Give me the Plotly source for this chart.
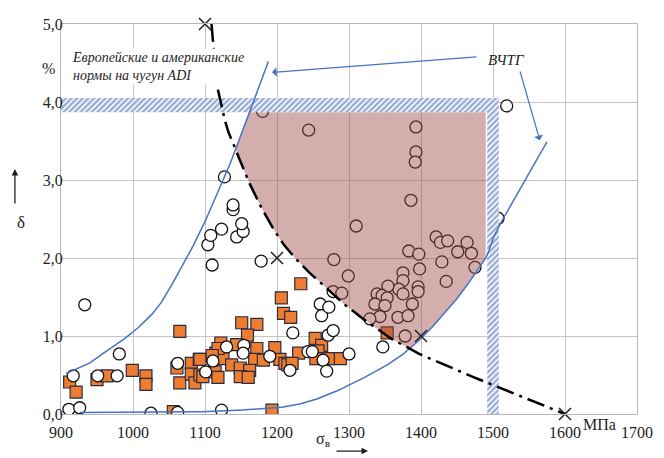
import numpy as np
import plotly.graph_objects as go

# ---------------- data ----------------
circle_x = [933, 981, 917, 951, 978, 911, 926, 1025, 1062, 1062, 1123,
            1101, 1111, 1130, 1154, 1153, 1190, 1218, 1222, 1243, 1249, 1264, 1269, 1300,
            1271, 1278, 1260, 1262, 1272, 1278, 1290, 1299, 1279, 1310,
            1104, 1108, 1123, 1144, 1153, 1151, 1139, 1139, 1127, 1110, 1178, 1180, 1244,
            1393, 1393, 1392, 1386, 1519, 1507,
            1421, 1427, 1437, 1464, 1451, 1470, 1475, 1429, 1435, 1383, 1397, 1398, 1375,
            1375, 1369, 1396, 1396, 1375, 1354, 1339, 1346, 1353, 1336, 1350, 1388, 1343,
            1329, 1368, 1382, 1378, 1347]
circle_y = [1.40, 0.77, 0.49, 0.49, 0.49, 0.06, 0.08, 0.01, 0.65, 0.02, 0.05,
            0.54, 0.68, 0.86, 0.88, 0.78, 0.74, 0.56, 1.04, 0.80, 0.80, 0.69, 0.55, 0.77,
            1.01, 1.07, 1.41, 1.26, 1.37, 1.57, 1.55, 1.77, 1.98, 2.41,
            2.17, 2.29, 2.37, 2.27, 2.34, 2.44, 2.62, 2.68, 3.04, 1.91, 1.96, 3.88, 3.64,
            3.68, 3.36, 3.23, 2.74, 3.95, 2.51,
            2.27, 2.20, 2.22, 2.20, 2.08, 2.06, 1.88, 1.95, 1.70, 2.09, 2.05, 1.86, 1.81,
            1.71, 1.60, 1.63, 1.57, 1.54, 1.64, 1.54, 1.52, 1.49, 1.41, 1.39, 1.41, 1.25,
            1.22, 1.24, 1.26, 1.00, 0.86]

square_x = [912, 921, 950, 964, 999, 1018, 1018, 1065, 1061, 1065, 1081, 1092, 1081, 1086,
            1056, 1193, 1233, 1206, 1209, 1219, 1151, 1172, 1159, 1122, 1144, 1172, 1197,
            1230, 1115, 1093, 1125, 1137, 1169, 1181, 1149, 1162, 1204, 1211, 1215, 1114,
            1093, 1118, 1149, 1160, 1097, 1253, 1262, 1257, 1254, 1272, 1288, 1353, 1221,
            1118, 1110]
square_y = [0.41, 0.28, 0.44, 0.49, 0.56, 0.49, 0.38, 1.06, 0.59, 0.40, 0.65, 0.70, 0.51, 0.40,
            0.03, 0.05, 1.67, 1.49, 1.29, 1.24, 1.17, 1.15, 1.01, 0.91, 0.89, 0.84, 0.85,
            0.78, 0.78, 0.70, 0.71, 0.63, 0.70, 0.69, 0.59, 0.56, 0.70, 0.65, 0.63, 0.54,
            0.50, 0.47, 0.48, 0.47, 0.48, 0.97, 0.88, 0.81, 0.71, 0.71, 0.71, 1.04, 0.65,
            0.84, 0.75]

# envelope of ADI (ВЧТГ) data - upper and lower boundaries
upper_x = [907, 937, 965, 1000, 1031, 1054, 1093, 1126, 1142, 1188]
upper_y = [0.52, 0.64, 0.82, 1.05, 1.33, 1.66, 2.33, 3.02, 3.38, 4.52]
lower_x = [926, 1000, 1100, 1150, 1200, 1241, 1274, 1300, 1340, 1371, 1399, 1422, 1450,
           1470, 1491, 1508, 1575]
lower_y = [0.02, 0.02, 0.03, 0.05, 0.08, 0.15, 0.26, 0.37, 0.56, 0.74, 0.96, 1.18, 1.48,
           1.73, 2.02, 2.40, 3.49]

# dash-dot limit curve and its marked points
limit_x = [1109, 1111, 1116, 1122, 1130, 1139, 1155, 1172, 1190, 1208, 1228, 1250, 1274,
           1301, 1353, 1380, 1400, 1492, 1600]
limit_y = [5.0, 4.75, 4.25, 4.0, 3.68, 3.48, 3.10, 2.76, 2.45, 2.19, 1.97, 1.77, 1.57,
           1.35, 1.00, 0.86, 0.76, 0.40, 0.0]
cross_x = [1100, 1200, 1400, 1600]
cross_y = [5.0, 2.0, 1.0, 0.0]

# European and American norms for ADI (hatched bands)
norm_delta_band = [3.87, 4.05]
norm_sigma_band = [1492, 1508]
norm_sigma_min = 900
pink_right = 1490

x_tickvals = [900, 1000, 1100, 1200, 1300, 1400, 1500, 1600, 1700]
x_ticktext = ["900", "1000", "1100", "1200", "1300", "1400", "1500", "1600", "1700"]
y_tickvals = [0, 1, 2, 3, 4, 5]
y_ticktext = ["0,0", "1,0", "2,0", "3,0", "4,0", "5,0"]


def smooth(xs, ys, n=16):
    p = np.array([xs, ys], dtype=float).T
    p = np.vstack([p[0], p, p[-1]])
    out = []
    for i in range(1, len(p) - 2):
        p0, p1, p2, p3 = p[i - 1], p[i], p[i + 1], p[i + 2]
        for t in np.linspace(0, 1, n, endpoint=False):
            out.append(0.5 * ((2 * p1) + (-p0 + p2) * t + (2 * p0 - 5 * p1 + 4 * p2 - p3) * t ** 2
                              + (-p0 + 3 * p1 - 3 * p2 + p3) * t ** 3))
    out.append(p[-2])
    out = np.array(out)
    return out[:, 0], out[:, 1]


ux, uy = smooth(upper_x, upper_y)
lx, ly = smooth(lower_x, lower_y)
dx, dy = smooth(limit_x, limit_y)

# intersections for shaded region
grid = np.linspace(1110, 1500, 8000)
d_on = np.interp(grid, dx, dy)
u_on = np.interp(grid, ux, uy)
l_on = np.interp(grid, lx, ly)
xa = grid[np.argmin(np.abs(u_on - d_on) + (grid > 1200) * 10)]
xc = grid[np.argmin(np.abs(l_on - d_on) + (grid < 1300) * 10)]
xb = np.interp(norm_delta_band[0], uy, ux)

px_, py_ = [], []
m = (ux >= xa) & (ux <= xb)
px_ += [xa] + list(ux[m]) + [xb, pink_right]
py_ += [np.interp(xa, ux, uy)] + list(uy[m]) + [norm_delta_band[0], norm_delta_band[0]]
px_ += [pink_right]
py_ += [np.interp(pink_right, lx, ly)]
m = (lx <= pink_right) & (lx >= xc)
px_ += list(lx[m][::-1]) + [xc]
py_ += list(ly[m][::-1]) + [np.interp(xc, lx, ly)]
m = (dx <= xc) & (dx >= xa)
px_ += list(dx[m][::-1]) + [xa]
py_ += list(dy[m][::-1]) + [np.interp(xa, dx, dy)]

hatch_x = [norm_sigma_min, norm_sigma_min, norm_sigma_band[1], norm_sigma_band[1],
           norm_sigma_band[0], norm_sigma_band[0], norm_sigma_min]
hatch_y = [norm_delta_band[0], norm_delta_band[1], norm_delta_band[1], 0, 0,
           norm_delta_band[0], norm_delta_band[0]]

BLUE = "#4472C4"
HATCH = "#2E56A8"
SERIF = "'Liberation Serif', 'Times New Roman', 'DejaVu Serif', serif"
TXT = "#1e1e1e"

fig = go.Figure()
fig.add_trace(go.Scatter(x=square_x, y=square_y, mode="markers",
                         marker=dict(symbol="square", size=12, color="#ED7D31",
                                     line=dict(color="#2B2B40", width=1.2))))
fig.add_trace(go.Scatter(x=circle_x, y=circle_y, mode="markers",
                         marker=dict(symbol="circle", size=12, color="white",
                                     line=dict(color="#111111", width=1.3))))
fig.add_trace(go.Scatter(x=px_, y=py_, mode="lines", fill="toself",
                         fillcolor="rgba(160,75,70,0.45)", line=dict(width=0)))
fig.add_trace(go.Scatter(x=hatch_x, y=hatch_y, mode="lines", fill="toself",
                         fillcolor="white", line=dict(width=0),
                         fillpattern=dict(shape="/", fgcolor=HATCH, bgcolor="white",
                                          size=4, solidity=0.6)))
fig.add_trace(go.Scatter(x=ux, y=uy, mode="lines", line=dict(color=BLUE, width=1.5)))
fig.add_trace(go.Scatter(x=lx, y=ly, mode="lines", line=dict(color=BLUE, width=1.5)))
fig.add_trace(go.Scatter(x=dx, y=dy, mode="lines",
                         line=dict(color="black", width=2.5, dash="18px,6px,3px,6px")))
fig.add_trace(go.Scatter(x=cross_x, y=cross_y, mode="markers", cliponaxis=False,
                         marker=dict(symbol="x-thin", size=12,
                                     line=dict(color="#222222", width=1.5))))

ann = []
ann.append(dict(x=912, y=4.46, xref="x", yref="y", xanchor="left", yanchor="middle",
                align="left", showarrow=False, bgcolor="white",
                text="<i>Европейские и американские<br>нормы на чугун ADI</i>",
                font=dict(family=SERIF, size=14, color=TXT)))
ann.append(dict(x=1519, y=4.54, xref="x", yref="y", showarrow=False,
                text="<i>ВЧТГ</i>", font=dict(family=SERIF, size=15, color=TXT)))
ann.append(dict(x=1193, y=4.38, ax=1479, ay=4.58, xref="x", yref="y", axref="x", ayref="y",
                text="", showarrow=True, arrowhead=1, arrowsize=1.3, arrowwidth=1.2,
                arrowcolor=BLUE))
ann.append(dict(x=1565, y=3.51, ax=1537, ay=4.41, xref="x", yref="y", axref="x", ayref="y",
                text="", showarrow=True, arrowhead=1, arrowsize=1.3, arrowwidth=1.2,
                arrowcolor=BLUE))
ann.append(dict(x=-0.036, y=0.913, xref="paper", yref="paper", showarrow=False, text="%",
                font=dict(family=SERIF, size=16, color=TXT)))
ann.append(dict(x=-0.08, y=0.49, xref="paper", yref="paper", showarrow=False, text="δ",
                font=dict(family=SERIF, size=17, color=TXT)))
ann.append(dict(x=-0.08, y=0.628, xref="paper", yref="paper", ax=0, ay=36, text="",
                showarrow=True, arrowhead=2, arrowsize=1, arrowwidth=1.3, arrowcolor=TXT))
ann.append(dict(x=0.455, y=-0.094, xref="paper", yref="paper", showarrow=False,
                text="σ<sub>в</sub>", font=dict(family=SERIF, size=16, color=TXT)))
ann.append(dict(x=0.533, y=-0.095, xref="paper", yref="paper", ax=-33, ay=0, text="",
                showarrow=True, arrowhead=2, arrowsize=1, arrowwidth=1.3, arrowcolor=TXT))
ann.append(dict(x=1648, y=-0.054, xref="x", yref="paper", showarrow=False, text="МПа",
                font=dict(family=SERIF, size=16, color=TXT)))

fig.update_layout(
    width=664, height=458, margin=dict(l=61, r=27, t=24, b=44),
    plot_bgcolor="white", paper_bgcolor="white", showlegend=False,
    annotations=ann,
    font=dict(family=SERIF, size=16, color=TXT),
)
fig.update_xaxes(range=[900, 1700], tickvals=x_tickvals, ticktext=x_ticktext,
                 showgrid=True, gridcolor="#c4c4c4", gridwidth=1, zeroline=False,
                 showline=True, linecolor="#b8b8b8", linewidth=1, mirror=True,
                 ticks="", ticklabelstandoff=4, tickfont=dict(family=SERIF, size=16))
fig.update_yaxes(range=[0, 5], tickvals=y_tickvals, ticktext=y_ticktext,
                 showgrid=True, gridcolor="#c4c4c4", gridwidth=1, zeroline=False,
                 showline=True, linecolor="#b8b8b8", linewidth=1, mirror=True,
                 ticks="", ticklabelstandoff=-6, tickfont=dict(family=SERIF, size=16))

fig.write_html("out.html")
